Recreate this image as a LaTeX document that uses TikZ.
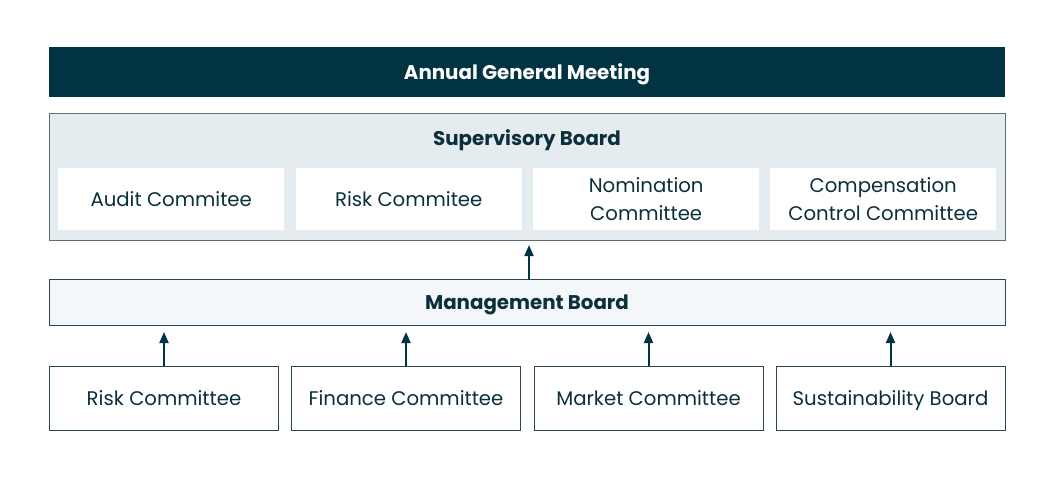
\documentclass[tikz,border=0pt]{standalone}
\usepackage{fontspec}
\setmainfont{Poppins}
\usetikzlibrary{arrows.meta}
\definecolor{navy}{HTML}{023343}
\definecolor{txt}{HTML}{0B2F3B}
\definecolor{supfill}{HTML}{E5ECEF}
\definecolor{supline}{HTML}{5E6E75}
\definecolor{mgfill}{HTML}{F3F7F9}
\definecolor{boxline}{HTML}{294752}
\tikzset{
  x=1pt,y=-1pt,
  wide/.style={anchor=north west,inner sep=0pt,outer sep=0pt},
  inbox/.style={fill=white,draw=none,minimum width=226pt,minimum height=62pt,inner sep=0pt,anchor=north west,align=center,text=txt,font=\fontsize{19.7}{28}\selectfont},
  botbox/.style={fill=white,draw=boxline,line width=1pt,minimum width=229pt,minimum height=64pt,inner sep=0pt,anchor=north west,align=center,text=txt,text height=14pt,text depth=0pt,font=\fontsize{19.7}{28}\selectfont},
  bold/.style={font=\bfseries\fontsize{19.8}{22}\selectfont,text height=14pt,text depth=0pt},
  upar/.style={-{Triangle[width=9pt,length=11pt]},line width=2pt,draw=navy},
}
\begin{document}
\begin{tikzpicture}
\useasboundingbox[fill=white] (0,0) rectangle (1053,480);
% AGM
\node[wide,fill=navy,minimum width=956pt,minimum height=50pt] (agm) at (49,47) {};
\node[text=white,bold] at (agm.center) {Annual General Meeting};
% Supervisory board
\node[wide,fill=supfill,draw=supline,line width=1pt,minimum width=956pt,minimum height=127pt] (sup) at (49,113) {};
\node[text=txt,bold] at (527,138) {Supervisory Board};
\node[inbox] (audit) at (58,168) {Audit Commitee};
\node[inbox] (riskc) at (295.5,168) {Risk Commitee};
\node[inbox] (nom) at (533,168) {Nomination\\Committee};
\node[inbox] (comp) at (770,168) {Compensation\\Control Committee};
% Management board
\node[wide,fill=mgfill,draw=boxline,line width=1pt,minimum width=956pt,minimum height=46pt] (mgmt) at (49,279.5) {};
\node[text=txt,bold] at (mgmt.center) {Management Board};
% Bottom boxes
\node[botbox] (risk) at (49,366) {Risk Committee};
\node[botbox] (fin) at (291,366) {Finance Committee};
\node[botbox] (mkt) at (533.5,366) {Market Committee};
\node[botbox] (sus) at (775.5,366) {Sustainability Board};
% Arrows
\coordinate (mtop) at (529,279.5);
\coordinate (sbot) at (529,245);
\draw[upar] (mtop) -- (sbot);
\foreach \n in {risk,fin,mkt,sus}{
  \draw[upar] (\n.north) -- ([yshift=34pt]\n.north);
}
\end{tikzpicture}
\end{document}
